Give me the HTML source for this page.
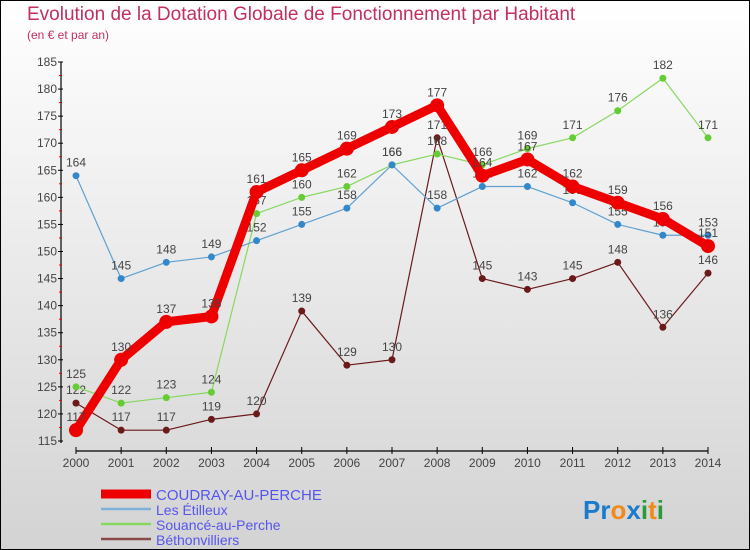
<!DOCTYPE html>
<html><head><meta charset="utf-8"><style>
body{margin:0}
#c{width:750px;height:550px;position:relative;box-sizing:border-box;border:1px solid #000;background:linear-gradient(#fff,#d3d3d3);font-family:"Liberation Sans",sans-serif;overflow:hidden}
.t{position:absolute;left:26px;top:3px;color:#c2305f;font-size:19px}
.s{position:absolute;left:26px;top:27px;color:#c2305f;font-size:12px}
</style></head><body>
<div id="c">
<div class="t">Evolution de la Dotation Globale de Fonctionnement par Habitant</div>
<div class="s">(en € et par an)</div>
<svg id="g" width="750" height="550" style="position:absolute;left:0;top:0"></svg>
</div>
<script>
const years=[2000,2001,2002,2003,2004,2005,2006,2007,2008,2009,2010,2011,2012,2013,2014];
const yTicks=[115,120,125,130,135,140,145,150,155,160,165,170,175,180,185];
const coudray=[117,130,137,138,161,165,169,173,177,164,167,162,159,156,151];
const etilleux=[164,145,148,149,152,155,158,166,158,162,162,159,155,153,153];
const souance=[125,122,123,124,157,160,162,166,168,166,169,171,176,182,171];
const bethon=[122,117,117,119,120,139,129,130,171,145,143,145,148,136,146];
const names=["COUDRAY-AU-PERCHE","Les Étilleux","Souancé-au-Perche","Béthonvilliers"];
const NS="http://www.w3.org/2000/svg";
const g=document.getElementById('g');
const X=i=>75+i*(707-75)/(years.length-1);
const Y=v=>440-(v-115)*(440-61)/70;
function el(t,a,p){const e=document.createElementNS(NS,t);for(const k in a)e.setAttribute(k,a[k]);(p||g).appendChild(e);return e;}
const ax=el('line',{x1:60,y1:61,x2:60,y2:442,stroke:'#000','stroke-width':1.2});


const axx=el('line',{x1:75,y1:450,x2:707,y2:450,stroke:'#000','stroke-width':1.2});


yTicks.forEach(v=>{el('line',{x1:57,x2:62,y1:Y(v),y2:Y(v),stroke:'#000'});
if(v<185)el('line',{x1:58,x2:61,y1:Y(v+2.5),y2:Y(v+2.5),stroke:'#e00'});
const t=el('text',{x:56,y:Y(v)+4,'text-anchor':'end','font-size':12,fill:'#444'});t.textContent=v;

});
years.forEach((yr,i)=>{el('line',{x1:X(i),x2:X(i),y1:446,y2:453,stroke:'#000'});
const t=el('text',{x:X(i),y:466,'text-anchor':'middle','font-size':12,fill:'#444'});t.textContent=yr;

});
const series=[[bethon,'#6b1a1a',1.2,3.5,'#6b1a1a'],[souance,'#88d860',1.2,3.5,'#66cc33'],[etilleux,'#5fa0d0',1.2,3.5,'#3388cc'],[coudray,'#ee0000',9,7,'#ee0000']];
series.forEach(([d,c,w,r,f],si)=>{
const p=el('polyline',{points:d.map((v,i)=>X(i)+','+Y(v)).join(' '),fill:'none',stroke:c,'stroke-width':w,'stroke-linejoin':'round'});


d.forEach((v,i)=>{const m=el('circle',{cx:X(i),cy:Y(v),r:r,fill:f});


const t=el('text',{x:X(i),y:Y(v)-9,'text-anchor':'middle','font-size':12,fill:'#444'});t.textContent=v;

});
});
const lc=['#ee0000','#7fb0d8','#88d860','#8b4a4a'],lw=[9,2.5,2.5,2.5],ly=[493,508,523,538];
names.forEach((n,i)=>{el('line',{x1:100,x2:150,y1:ly[i],y2:ly[i],stroke:lc[i],'stroke-width':lw[i]});
const t=el('text',{x:155,y:ly[i]+6,'font-size':i?14:15,fill:'#5555ee'});t.textContent=n;

});
const lg=el('text',{x:582,y:518,'font-size':26,'font-weight':'bold'});


[['Pr','#1a7acc'],['o','#f08a1a'],['x','#1a7acc'],['i','#2a9a3a'],['t','#f08a1a'],['i','#2a9a3a']].forEach(([s,c])=>{const sp=el('tspan',{fill:c},lg);sp.textContent=s;});
</script>
</body></html>
